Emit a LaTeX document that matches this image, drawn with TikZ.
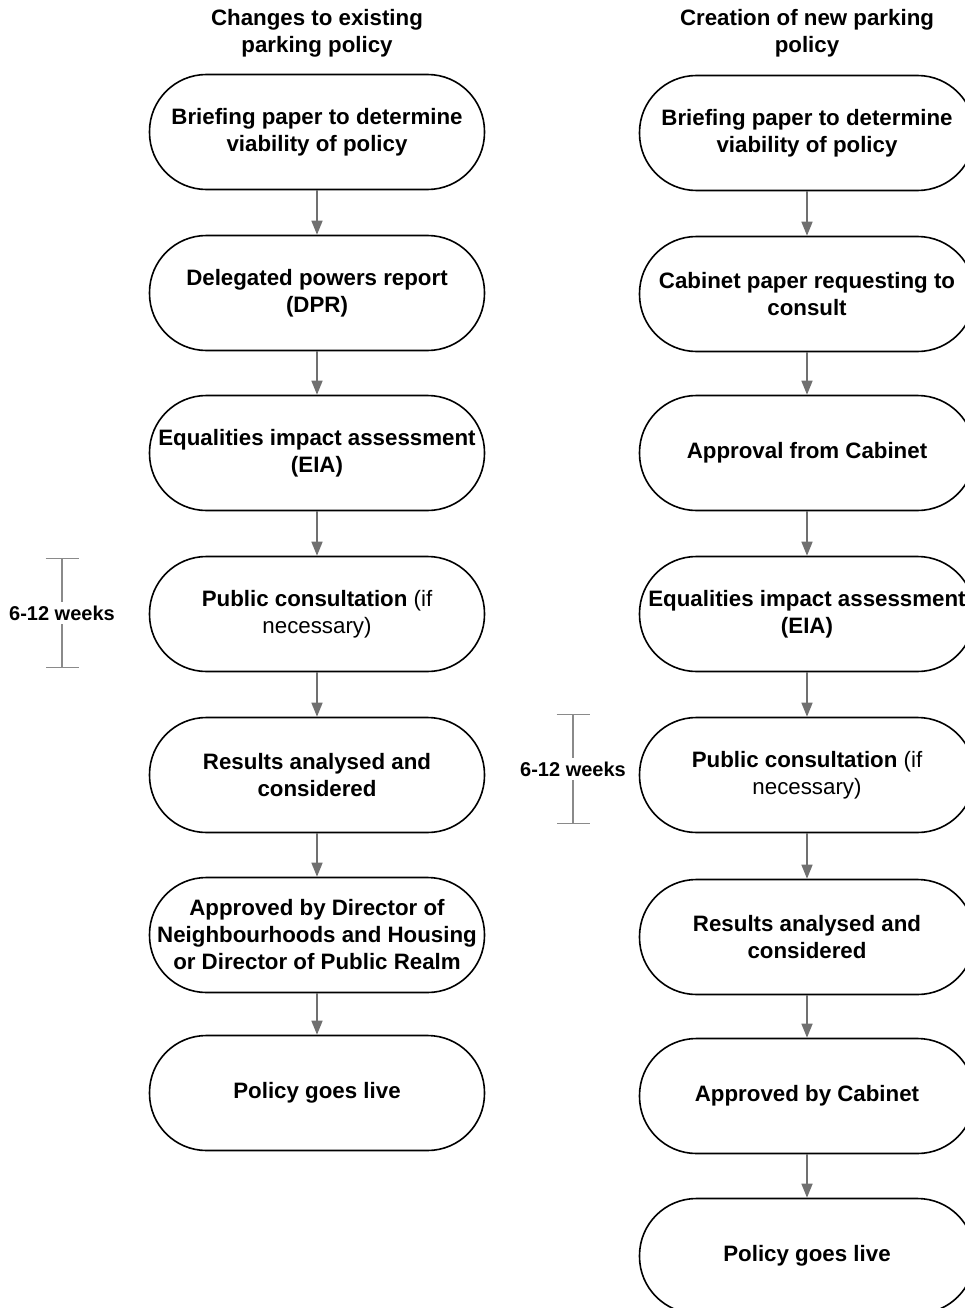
\documentclass[tikz,border=0pt]{standalone}
\usepackage{fontspec}
\setmainfont{Liberation Sans}
\usetikzlibrary{arrows.meta}
\definecolor{arrowgray}{HTML}{707070}
\definecolor{spangray}{HTML}{8A8A8A}

\tikzset{
  stadium/.style={draw, line width=1.6pt, rounded corners=57pt,
                  minimum width=335pt, minimum height=115pt, inner sep=0pt,
                  align=center, font=\fontsize{22.3}{27}\selectfont\bfseries},
  heading/.style={align=center, font=\fontsize{22.3}{27}\selectfont\bfseries},
  weeks/.style={fill=white, text=black, inner sep=4pt, font=\fontsize{20}{24}\selectfont\bfseries},
  flow/.style={arrowgray, line width=1.5pt, -{Triangle[length=14pt,width=11pt]}},
  span/.style={spangray, line width=1.2pt, {Bar[width=33pt]}-{Bar[width=33pt]}}
}

\begin{document}
\begin{tikzpicture}[x=1pt,y=-1pt]
\clip (0,0) rectangle (965,1308);

% left column: changes to existing policy
\node[heading] (headL) at (317,33) {Changes to existing\\parking policy};
\node[stadium] (L1) at (317,132) {Briefing paper to determine\\viability of policy};
\node[stadium] (L2) at (317,293) {Delegated powers report\\(DPR)};
\node[stadium] (L3) at (317,453) {Equalities impact assessment\\(EIA)};
\node[stadium] (L4) at (317,614) {Public consultation {\mdseries (if}\\{\mdseries necessary)}};
\node[stadium] (L5) at (317,775) {Results analysed and\\considered};
\node[stadium] (L6) at (317,935) {Approved by Director of\\Neighbourhoods and Housing\\or Director of Public Realm};
\node[stadium] (L7) at (317,1093) {Policy goes live};

\draw[flow] (L1) -- (L2);
\draw[flow] (L2) -- (L3);
\draw[flow] (L3) -- (L4);
\draw[flow] (L4) -- (L5);
\draw[flow] (L5) -- (L6);
\draw[flow] (L6) -- (L7);

\coordinate (spanLtop) at (62,558);
\coordinate (spanLbot) at (62,668);
\draw[span] (spanLtop) -- node[weeks] (weeksL) {6-12 weeks} (spanLbot);

% right column: creation of new policy
\node[heading] (headR) at (807,33) {Creation of new parking\\policy};
\node[stadium] (R1) at (807,133) {Briefing paper to determine\\viability of policy};
\node[stadium] (R2) at (807,294) {Cabinet paper requesting to\\consult};
\node[stadium] (R3) at (807,453) {Approval from Cabinet};
\node[stadium] (R4) at (807,614) {Equalities impact assessment\\(EIA)};
\node[stadium] (R5) at (807,775) {Public consultation {\mdseries (if}\\{\mdseries necessary)}};
\node[stadium] (R6) at (807,937) {Results analysed and\\considered};
\node[stadium] (R7) at (807,1096) {Approved by Cabinet};
\node[stadium] (R8) at (807,1256) {Policy goes live};

\draw[flow] (R1) -- (R2);
\draw[flow] (R2) -- (R3);
\draw[flow] (R3) -- (R4);
\draw[flow] (R4) -- (R5);
\draw[flow] (R5) -- (R6);
\draw[flow] (R6) -- (R7);
\draw[flow] (R7) -- (R8);

\coordinate (spanRtop) at (573,714);
\coordinate (spanRbot) at (573,824);
\draw[span] (spanRtop) -- node[weeks] (weeksR) {6-12 weeks} (spanRbot);
\end{tikzpicture}
\end{document}
